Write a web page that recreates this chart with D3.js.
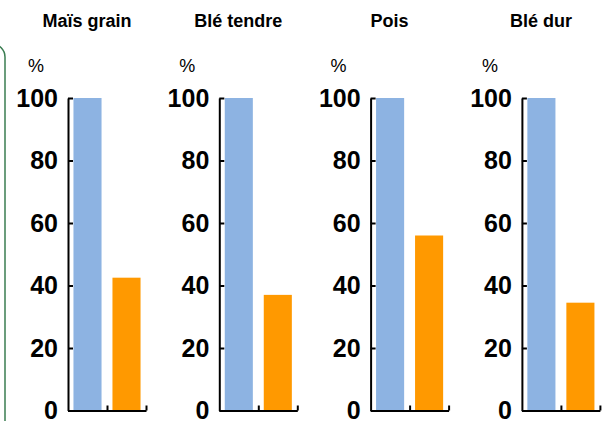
<!DOCTYPE html>
<html>
<head>
<meta charset="utf-8">
<script src="https://cdn.jsdelivr.net/npm/d3@7"></script>
<style>
  html, body { margin: 0; padding: 0; background: #fff; }
  svg { display: block; font-family: "Liberation Sans", Arial, sans-serif; }
</style>
</head>
<body>
<svg id="chart" width="614" height="421"></svg>
<script>
// data
const crops = ["Maïs grain", "Blé tendre", "Pois", "Blé dur"];
const series = ["référence", "réduit"];
const refValues = [100, 100, 100, 100];
const redValues = [42.5, 37, 56, 34.5];
const yTicks = [0, 20, 40, 60, 80, 100];
const colors = ["#8db3e2", "#ff9900"];

const W = 614, H = 421;
const svg = d3.select("#chart");

// left frame from the slide (partially visible)
svg.append("rect")
  .attr("x", -120).attr("y", 44).attr("width", 125).attr("height", 500)
  .attr("rx", 13).attr("fill", "none")
  .attr("stroke", "#3b7d52").attr("stroke-width", 1.5);

const panel = d3.scaleBand().domain(crops).range([68, 68 + 151.3 * crops.length]);
const y = d3.scaleLinear().domain([0, 100]).range([410.5, 98]);
const plotW = 78;
const x = d3.scaleBand().domain(series).range([0, plotW]).paddingInner(0.28).paddingOuter(0.14);
const xEdge = d3.scaleLinear().domain([0, series.length]).range([0, plotW]);

crops.forEach((c, i) => {
  const g = svg.append("g").attr("transform", `translate(${panel(c)},0)`);
  const vals = [refValues[i], redValues[i]];

  g.append("text").attr("x", 19).attr("y", 27)
    .attr("text-anchor", "middle").attr("font-size", 18).attr("font-weight", "bold")
    .attr("fill", "#000").text(c);

  g.append("text").attr("x", -32).attr("y", 72)
    .attr("text-anchor", "middle").attr("font-size", 18)
    .attr("fill", "#000").text("%");

  g.selectAll("rect.bar").data(vals).enter().append("rect")
    .attr("class", "bar")
    .attr("x", (d, j) => x(series[j]))
    .attr("width", x.bandwidth())
    .attr("y", d => y(d))
    .attr("height", d => y(0) - y(d))
    .attr("fill", (d, j) => colors[j]);

  const ya = g.append("g")
    .call(d3.axisLeft(y).tickValues(yTicks).tickSizeInner(-5).tickSizeOuter(0).tickPadding(10));
  ya.selectAll("text").attr("font-size", 25).attr("font-weight", "bold").attr("fill", "#000")
    .attr("font-family", "'Liberation Sans', Arial, sans-serif");

  const xa = g.append("g").attr("transform", `translate(0,${y(0)})`)
    .call(d3.axisBottom(xEdge).tickValues([1, 2]).tickFormat("").tickSizeInner(-5).tickSizeOuter(0));

  [ya, xa].forEach(a => {
    a.select(".domain").attr("stroke", "#000").attr("stroke-width", 2);
    a.selectAll(".tick line").attr("stroke", "#000").attr("stroke-width", 2);
  });
});
</script>
</body>
</html>
